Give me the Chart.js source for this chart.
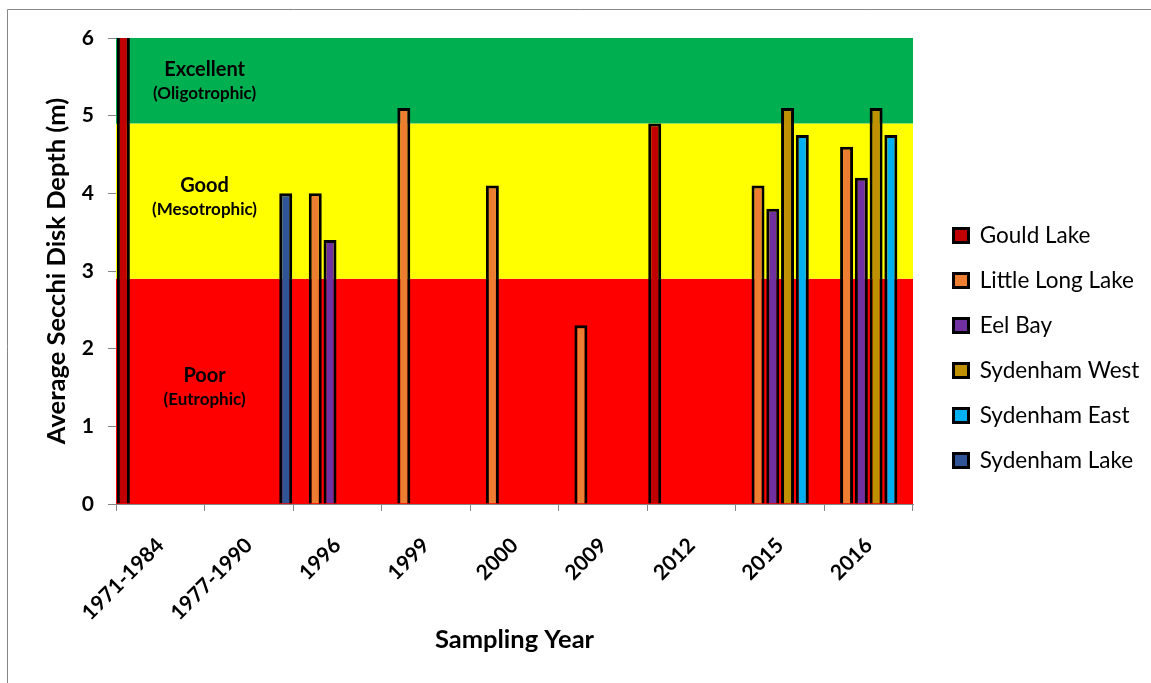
<!DOCTYPE html>
<html>
<head>
<meta charset="utf-8">
<title>Average Secchi Disk Depth</title>
<script src="https://cdn.jsdelivr.net/npm/chart.js@4.4.1/dist/chart.umd.min.js"></script>
<style>
  html, body { margin: 0; padding: 0; background: #ffffff; overflow: hidden; }
  #wrap { width: 1151px; height: 683px; position: relative; }
</style>
</head>
<body>
<div id="wrap"><canvas id="chart" width="1151" height="683"></canvas></div>
<script>
// Sampling years shown on the x axis
const years = ['1971-1984', '1977-1990', '1996', '1999', '2000', '2009', '2012', '2015', '2016'];

// Average Secchi depth (m) per lake, one value per sampling year
const gouldLake      = [6.2, null, null, null, null, null, 4.9, null, null];
const littleLongLake = [null, null, 4.0, 5.1, 4.1, 2.3, null, 4.1, 4.6];
const eelBay         = [null, null, 3.4, null, null, null, null, 3.8, 4.2];
const sydenhamWest   = [null, null, null, null, null, null, null, 5.1, 5.1];
const sydenhamEast   = [null, null, null, null, null, null, null, 4.75, 4.75];
const sydenhamLake   = [null, 4.0, null, null, null, null, null, null, null];

// Depth axis ticks
const depthTicks = [0, 1, 2, 3, 4, 5, 6];

// Trophic status bands: lower/upper depth limits and their names
const bandLower = [0, 2.9, 4.9];
const bandUpper = [2.9, 4.9, 6];
const bandNames = ['Poor', 'Good', 'Excellent'];
const bandStatus = ['(Eutrophic)', '(Mesotrophic)', '(Oligotrophic)'];

const seriesNames = ['Gould Lake', 'Little Long Lake', 'Eel Bay', 'Sydenham West', 'Sydenham East', 'Sydenham Lake'];
const seriesValues = [gouldLake, littleLongLake, eelBay, sydenhamWest, sydenhamEast, sydenhamLake];
const seriesColors = ['#C00000', '#ED7D31', '#7030A0', '#BF9000', '#00B0F0', '#2F5597'];

const bandColors = ['#FF0000', '#FFFF00', '#00B050'];
const bandLabelDepth = [1.65, 4.1, 5.6];

const FONT = 'Lato, "Open Sans", sans-serif';
const AXIS_GREY = '#868686';

const legendFontSize = 22.5;
const legendBox = 15;
const legendPad = 22.5;
const legendGap = 18;       // extra space between plot and legend keys
const plotRight = 913;
const canvasW = 1151;

// width of the longest legend entry, used to size the right-hand margin
const mctx = document.createElement('canvas').getContext('2d');
mctx.font = legendFontSize + 'px ' + FONT;
const legendTextW = Math.max(...seriesNames.map(n => mctx.measureText(n).width));
const legendW = legendPad + legendBox + legendFontSize / 2 + legendTextW + 10;
const rightPad = canvasW - plotRight - legendW;

// Coloured trophic bands behind the bars, with their captions
const bandsPlugin = {
  id: 'trophicBands',
  beforeDraw(chart) {
    const ctx = chart.ctx;
    ctx.save();
    ctx.fillStyle = '#ffffff';
    ctx.fillRect(0, 0, chart.width, chart.height);
    // frame lines along the top and left edge
    ctx.strokeStyle = AXIS_GREY;
    ctx.lineWidth = 1;
    ctx.beginPath();
    ctx.moveTo(7.5, chart.height);
    ctx.lineTo(7.5, 9.5);
    ctx.lineTo(chart.width, 9.5);
    ctx.stroke();
    ctx.restore();
  },
  beforeDatasetsDraw(chart) {
    const {ctx, chartArea: a, scales: {x, y}} = chart;
    ctx.save();
    for (let i = 0; i < bandLower.length; i++) {
      const top = y.getPixelForValue(bandUpper[i]);
      const bot = y.getPixelForValue(bandLower[i]);
      ctx.fillStyle = bandColors[i];
      ctx.fillRect(a.left, top, a.right - a.left, bot - top);
    }
    const cx = (x.getPixelForValue(0) + x.getPixelForValue(1)) / 2;
    ctx.fillStyle = '#000000';
    ctx.textAlign = 'center';
    ctx.textBaseline = 'middle';
    for (let i = 0; i < bandNames.length; i++) {
      const py = y.getPixelForValue(bandLabelDepth[i]);
      ctx.font = 'bold 20px ' + FONT;
      ctx.fillText(bandNames[i], cx, py);
      ctx.font = 'bold 17px ' + FONT;
      ctx.fillText(bandStatus[i], cx, py + 24);
    }
    ctx.restore();
  },
  afterLayout(chart) {
    // leave a gap between the plot and the legend keys
    if (chart.legend) {
      chart.legend.left += legendGap;
      chart.legend.right += legendGap;
    }
  }
};

new Chart(document.getElementById('chart'), {
  type: 'bar',
  data: {
    labels: years,
    datasets: seriesNames.map((name, i) => ({
      label: name,
      data: seriesValues[i],
      backgroundColor: seriesColors[i],
      borderColor: '#000000',
      borderWidth: 3,
      categoryPercentage: 1.0,
      barPercentage: 0.88
    }))
  },
  options: {
    responsive: false,
    devicePixelRatio: 1,
    animation: false,
    layout: { padding: { left: 20, top: 38, right: rightPad, bottom: 25 } },
    plugins: {
      legend: {
        position: 'right',
        labels: {
          color: '#000000',
          font: { family: FONT, size: legendFontSize },
          boxWidth: legendBox,
          boxHeight: 14,
          padding: legendPad
        }
      },
      tooltip: { enabled: false }
    },
    scales: {
      x: {
        offset: true,
        grid: { display: true, offset: true, drawOnChartArea: false, drawTicks: true, tickLength: 7, color: AXIS_GREY, lineWidth: 1 },
        border: { display: true, color: AXIS_GREY, width: 1 },
        ticks: {
          color: '#000000',
          font: { family: FONT, size: 21, weight: 'bold' },
          minRotation: 45,
          maxRotation: 45,
          padding: 22
        },
        title: {
          display: true,
          text: 'Sampling Year',
          color: '#000000',
          font: { family: FONT, size: 25.5, weight: 'bold' },
          padding: { top: 0, bottom: 2.7 }
        },
        afterFit(scale) { scale.height = 683 - 25 - 504; }
      },
      y: {
        min: 0,
        max: 6,
        afterBuildTicks(scale) { scale.ticks = depthTicks.map(v => ({ value: v })); },
        grid: { display: true, drawOnChartArea: false, drawTicks: true, tickLength: 8, color: AXIS_GREY, lineWidth: 1 },
        border: { display: true, color: AXIS_GREY, width: 1 },
        ticks: {
          color: '#000000',
          font: { family: FONT, size: 21, weight: 'bold' },
          padding: 14
        },
        title: {
          display: true,
          text: 'Average Secchi Disk Depth (m)',
          color: '#000000',
          font: { family: FONT, size: 25.5, weight: 'bold' },
          padding: { top: 21.7, bottom: 0 }
        },
        afterFit(scale) { scale.width = 116 - 20; }
      }
    }
  },
  plugins: [bandsPlugin]
});
</script>
</body>
</html>
